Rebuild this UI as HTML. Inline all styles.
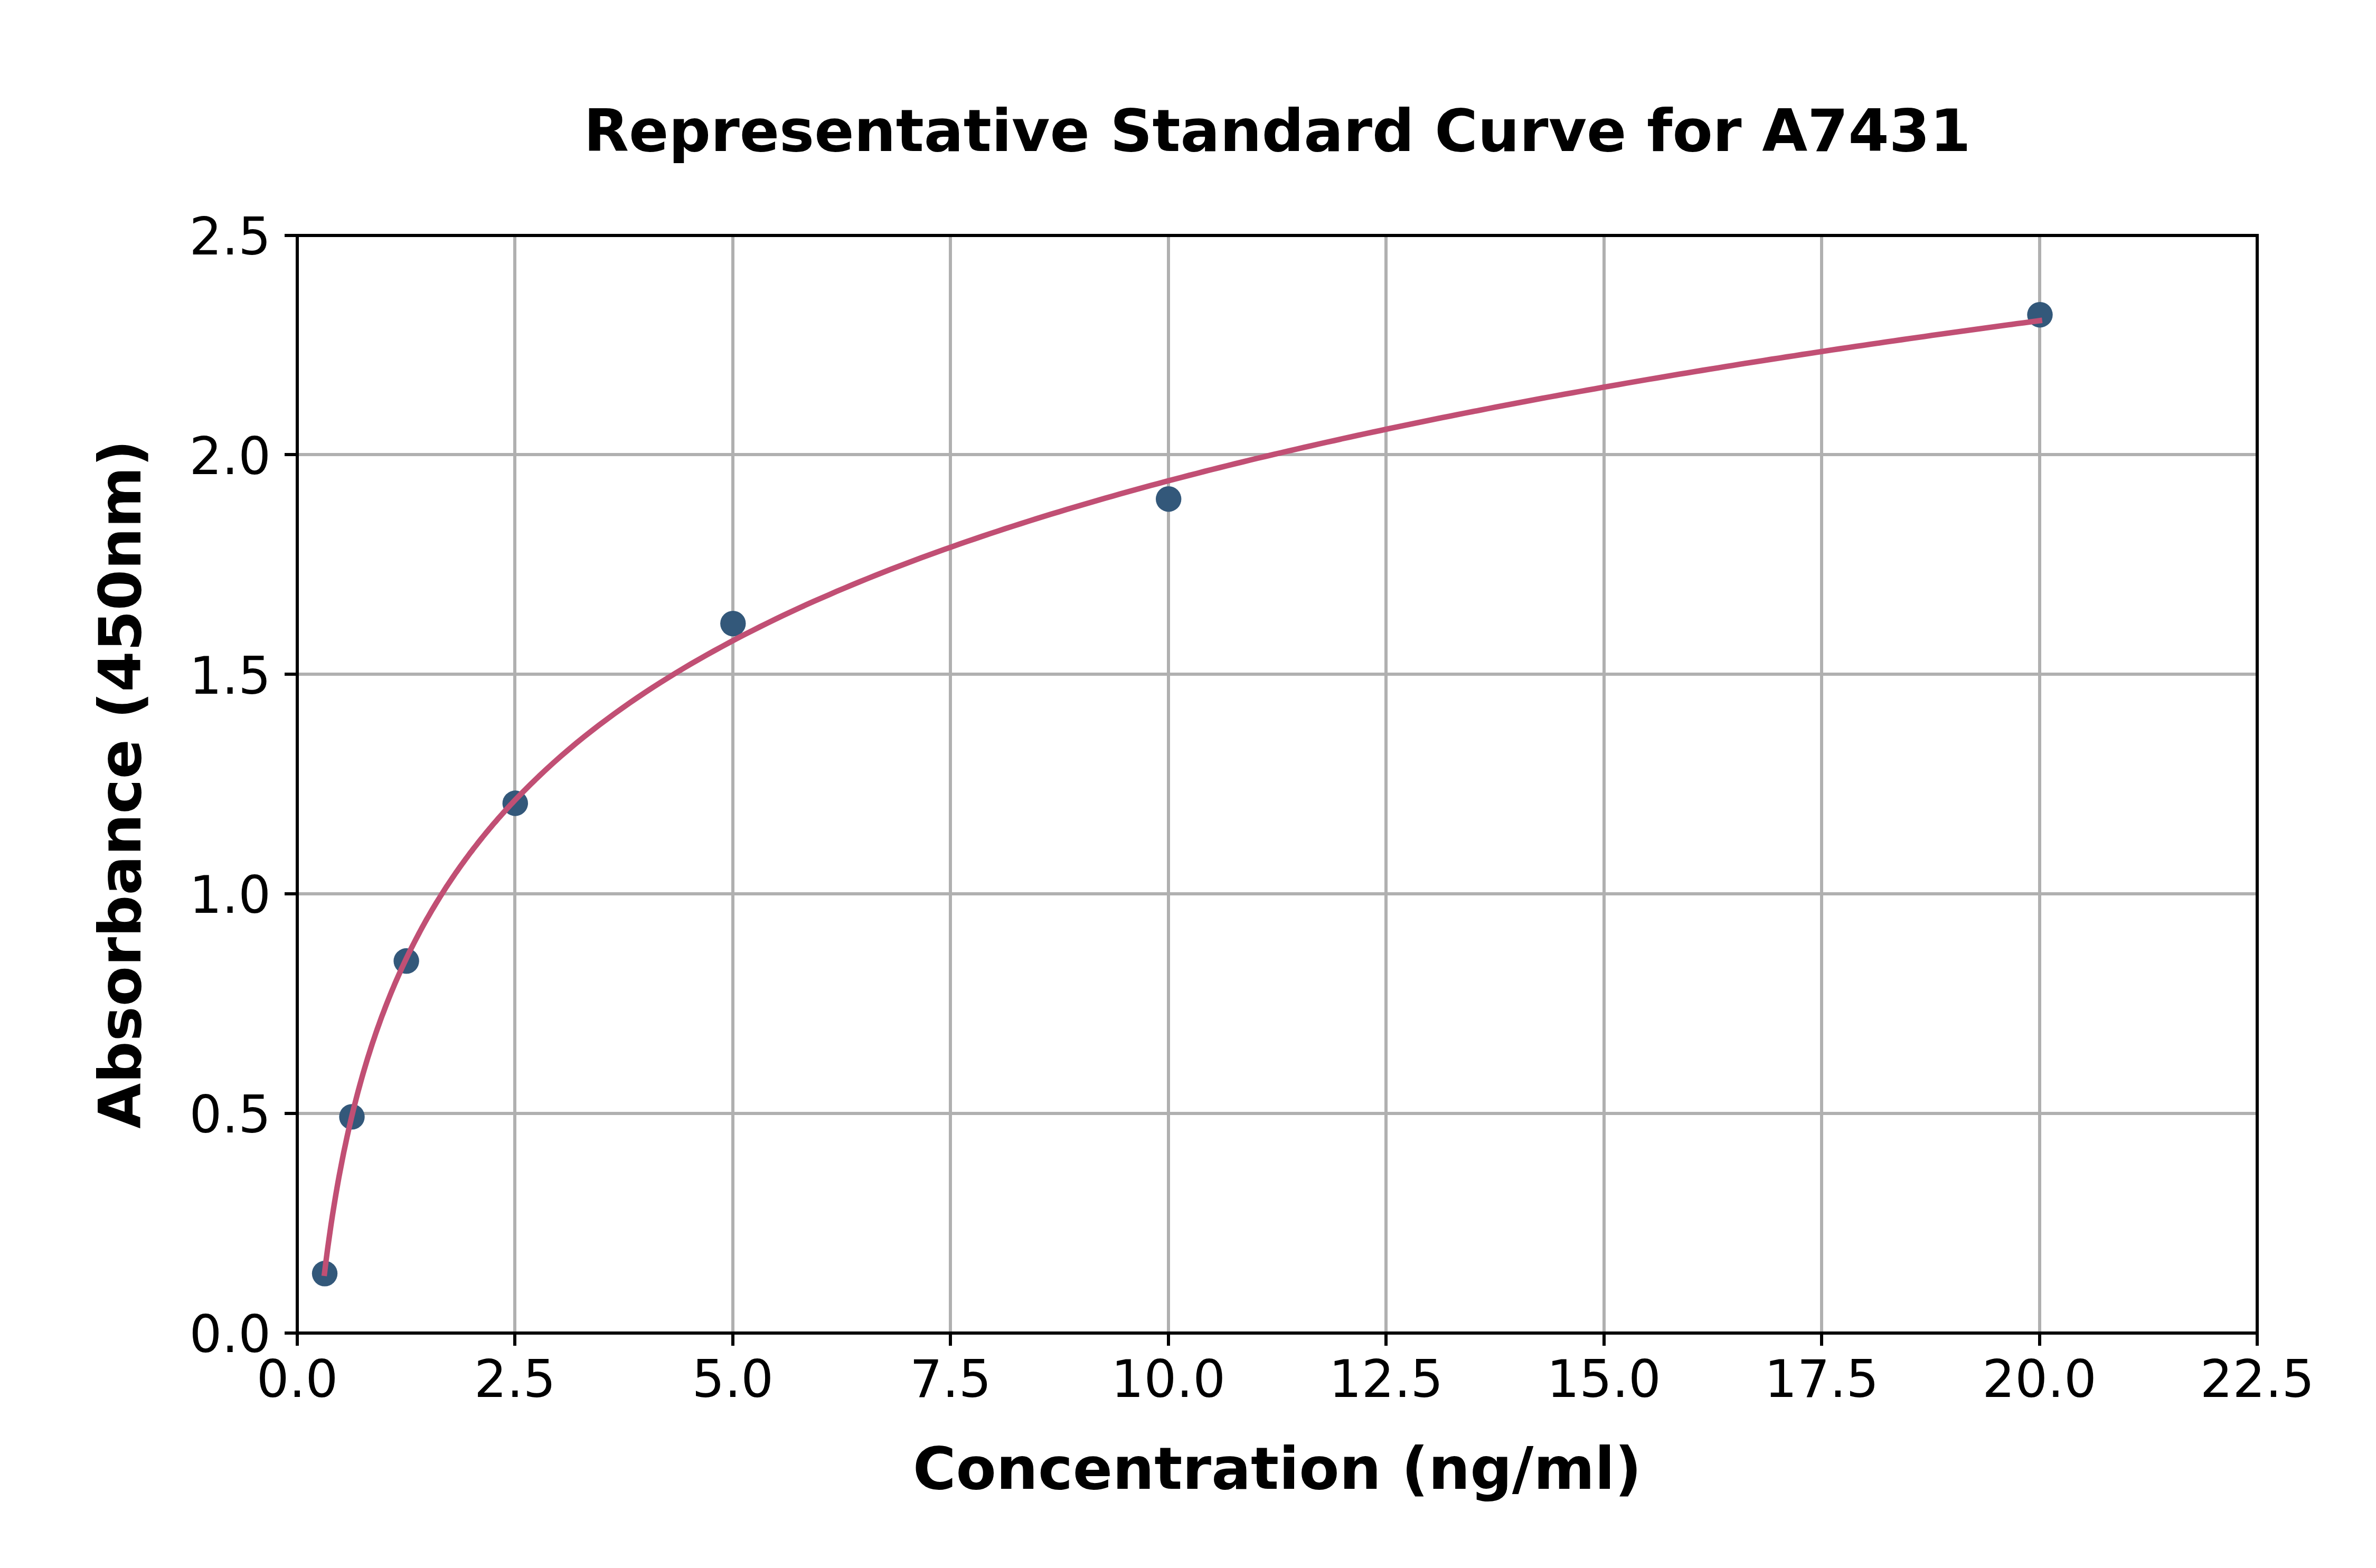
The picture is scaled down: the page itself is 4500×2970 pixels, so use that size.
<!DOCTYPE html>
<html lang="en">
<head>
<meta charset="utf-8">
<title>Representative Standard Curve for A7431</title>
<style>
html,body{margin:0;padding:0;background:#fff;}
body{width:4500px;height:2970px;overflow:hidden;}
svg{display:block;}
text{font-family:"DejaVu Sans", "Liberation Sans", sans-serif;fill:#000;}
.tk{font-size:97.22px;}
.lb{font-size:111.11px;font-weight:bold;}
.tt{font-size:111.11px;font-weight:bold;}
</style>
</head>
<body>
<svg width="4500" height="2970" viewBox="0 0 4500 2970">
<rect x="0" y="0" width="4500" height="2970" fill="#ffffff"/>
<g stroke="#b0b0b0" stroke-width="6" shape-rendering="crispEdges">
<line x1="975" y1="446" x2="975" y2="2525"/>
<line x1="1388" y1="446" x2="1388" y2="2525"/>
<line x1="1800" y1="446" x2="1800" y2="2525"/>
<line x1="2213" y1="446" x2="2213" y2="2525"/>
<line x1="2625" y1="446" x2="2625" y2="2525"/>
<line x1="3038" y1="446" x2="3038" y2="2525"/>
<line x1="3450" y1="446" x2="3450" y2="2525"/>
<line x1="3863" y1="446" x2="3863" y2="2525"/>
<line x1="563" y1="2109" x2="4275" y2="2109"/>
<line x1="563" y1="1693" x2="4275" y2="1693"/>
<line x1="563" y1="1277" x2="4275" y2="1277"/>
<line x1="563" y1="861" x2="4275" y2="861"/>
</g>
<g fill="#33587a">
<circle cx="615.0" cy="2412.3" r="24.2"/>
<circle cx="666.5" cy="2115.4" r="24.2"/>
<circle cx="769.6" cy="1820.3" r="24.2"/>
<circle cx="975.8" cy="1521.5" r="24.2"/>
<circle cx="1388.3" cy="1181.1" r="24.2"/>
<circle cx="2213.2" cy="945.2" r="24.2"/>
<circle cx="3863.5" cy="596.2" r="24.2"/>
</g>
<path d="M614.6 2411.8 L617.6 2387.4 L620.6 2364.3 L623.7 2342.4 L626.7 2321.6 L629.7 2301.7 L632.8 2282.6 L635.8 2264.4 L638.8 2247.0 L641.8 2230.1 L644.9 2214.0 L647.9 2198.4 L650.9 2183.3 L654.0 2168.8 L657.0 2154.7 L660.0 2141.1 L663.1 2127.9 L666.1 2115.0 L669.1 2102.6 L672.2 2090.5 L675.2 2078.7 L678.2 2067.2 L681.3 2056.0 L684.3 2045.1 L687.3 2034.5 L690.4 2024.1 L693.4 2014.0 L696.4 2004.1 L699.5 1994.4 L702.5 1984.9 L705.5 1975.7 L708.6 1966.6 L711.6 1957.7 L714.6 1949.0 L717.7 1940.4 L720.7 1932.1 L723.7 1923.8 L726.8 1915.8 L729.8 1907.8 L732.8 1900.1 L735.9 1892.4 L738.9 1884.9 L741.9 1877.5 L745.0 1870.3 L748.0 1863.1 L751.0 1856.1 L754.1 1849.2 L757.1 1842.4 L760.1 1835.7 L763.2 1829.1 L766.2 1822.6 L769.2 1816.2 L772.3 1809.8 L775.3 1803.6 L778.3 1797.5 L781.4 1791.4 L784.4 1785.5 L787.4 1779.6 L790.5 1773.8 L793.5 1768.0 L796.5 1762.4 L799.5 1756.8 L802.6 1751.3 L805.6 1745.8 L808.6 1740.4 L811.7 1735.1 L814.7 1729.9 L817.7 1724.7 L820.8 1719.5 L823.8 1714.5 L826.8 1709.5 L829.9 1704.5 L832.9 1699.6 L835.9 1694.8 L839.0 1690.0 L842.0 1685.2 L845.0 1680.5 L848.1 1675.9 L851.1 1671.3 L854.1 1666.8 L857.2 1662.3 L860.2 1657.8 L863.2 1653.4 L866.3 1649.1 L869.3 1644.8 L872.3 1640.5 L875.4 1636.2 L878.4 1632.1 L881.4 1627.9 L884.5 1623.8 L887.5 1619.7 L890.5 1615.7 L893.6 1611.7 L896.6 1607.7 L899.6 1603.8 L902.7 1599.9 L905.7 1596.0 L908.7 1592.2 L911.8 1588.4 L914.8 1584.6 L917.8 1580.9 L920.9 1577.2 L923.9 1573.6 L926.9 1569.9 L930.0 1566.3 L933.0 1562.7 L936.0 1559.2 L939.1 1555.7 L942.1 1552.2 L945.1 1548.7 L948.2 1545.3 L951.2 1541.9 L954.2 1538.5 L957.2 1535.1 L960.3 1531.8 L963.3 1528.5 L966.3 1525.2 L969.4 1522.0 L972.4 1518.7 L975.4 1515.5 L990.0 1500.5 L1004.5 1486.0 L1019.0 1471.9 L1033.5 1458.3 L1048.0 1445.0 L1062.5 1432.2 L1077.0 1419.8 L1091.5 1407.6 L1106.0 1395.8 L1120.5 1384.4 L1135.0 1373.2 L1149.5 1362.3 L1164.0 1351.6 L1178.6 1341.2 L1193.1 1331.1 L1207.6 1321.1 L1222.1 1311.4 L1236.6 1301.9 L1251.1 1292.7 L1265.6 1283.6 L1280.1 1274.6 L1294.6 1265.9 L1309.1 1257.3 L1323.6 1248.9 L1338.1 1240.7 L1352.7 1232.6 L1367.2 1224.7 L1381.7 1216.9 L1396.2 1209.2 L1410.7 1201.7 L1425.2 1194.3 L1439.7 1187.0 L1454.2 1179.8 L1468.7 1172.8 L1483.2 1165.8 L1497.7 1159.0 L1512.2 1152.3 L1526.8 1145.6 L1541.3 1139.1 L1555.8 1132.7 L1570.3 1126.4 L1584.8 1120.1 L1599.3 1114.0 L1613.8 1107.9 L1628.3 1101.9 L1642.8 1096.0 L1657.3 1090.2 L1671.8 1084.4 L1686.3 1078.7 L1700.8 1073.1 L1715.4 1067.6 L1729.9 1062.1 L1744.4 1056.7 L1758.9 1051.4 L1773.4 1046.1 L1787.9 1040.9 L1802.4 1035.8 L1816.9 1030.7 L1831.4 1025.6 L1845.9 1020.7 L1860.4 1015.8 L1874.9 1010.9 L1889.5 1006.1 L1904.0 1001.3 L1918.5 996.6 L1933.0 992.0 L1947.5 987.4 L1962.0 982.8 L1976.5 978.3 L1991.0 973.8 L2005.5 969.4 L2020.0 965.0 L2034.5 960.7 L2049.0 956.4 L2063.6 952.2 L2078.1 948.0 L2092.6 943.8 L2107.1 939.7 L2121.6 935.6 L2136.1 931.5 L2150.6 927.5 L2165.1 923.5 L2179.6 919.6 L2194.1 915.7 L2208.6 911.8 L2223.1 908.0 L2237.6 904.2 L2252.2 900.4 L2266.7 896.7 L2281.2 892.9 L2295.7 889.3 L2310.2 885.6 L2324.7 882.0 L2339.2 878.4 L2353.7 874.9 L2368.2 871.3 L2382.7 867.8 L2397.2 864.4 L2411.7 860.9 L2426.3 857.5 L2440.8 854.1 L2455.3 850.7 L2469.8 847.4 L2484.3 844.1 L2498.8 840.8 L2513.3 837.5 L2527.8 834.3 L2542.3 831.0 L2556.8 827.9 L2571.3 824.7 L2585.8 821.5 L2600.4 818.4 L2614.9 815.3 L2629.4 812.2 L2643.9 809.2 L2658.4 806.1 L2672.9 803.1 L2687.4 800.1 L2701.9 797.1 L2716.4 794.2 L2730.9 791.2 L2745.4 788.3 L2759.9 785.4 L2774.4 782.5 L2789.0 779.7 L2803.5 776.8 L2818.0 774.0 L2832.5 771.2 L2847.0 768.4 L2861.5 765.6 L2876.0 762.9 L2890.5 760.1 L2905.0 757.4 L2919.5 754.7 L2934.0 752.0 L2948.5 749.4 L2963.1 746.7 L2977.6 744.1 L2992.1 741.5 L3006.6 738.8 L3021.1 736.3 L3035.6 733.7 L3050.1 731.1 L3064.6 728.6 L3079.1 726.0 L3093.6 723.5 L3108.1 721.0 L3122.6 718.5 L3137.2 716.1 L3151.7 713.6 L3166.2 711.2 L3180.7 708.7 L3195.2 706.3 L3209.7 703.9 L3224.2 701.5 L3238.7 699.1 L3253.2 696.8 L3267.7 694.4 L3282.2 692.1 L3296.7 689.7 L3311.2 687.4 L3325.8 685.1 L3340.3 682.8 L3354.8 680.5 L3369.3 678.3 L3383.8 676.0 L3398.3 673.8 L3412.8 671.5 L3427.3 669.3 L3441.8 667.1 L3456.3 664.9 L3470.8 662.7 L3485.3 660.5 L3499.9 658.4 L3514.4 656.2 L3528.9 654.1 L3543.4 651.9 L3557.9 649.8 L3572.4 647.7 L3586.9 645.6 L3601.4 643.5 L3615.9 641.4 L3630.4 639.3 L3644.9 637.3 L3659.4 635.2 L3674.0 633.2 L3688.5 631.1 L3703.0 629.1 L3717.5 627.1 L3732.0 625.1 L3746.5 623.1 L3761.0 621.1 L3775.5 619.1 L3790.0 617.1 L3804.5 615.2 L3819.0 613.2 L3833.5 611.3 L3848.0 609.3 L3862.6 607.4" fill="none" stroke="#c14f74" stroke-width="10.4" stroke-linecap="square" stroke-linejoin="round"/>
<g stroke="#000" stroke-width="6" shape-rendering="crispEdges">
<line x1="563" y1="2525" x2="563" y2="2549"/>
<line x1="975" y1="2525" x2="975" y2="2549"/>
<line x1="1388" y1="2525" x2="1388" y2="2549"/>
<line x1="1800" y1="2525" x2="1800" y2="2549"/>
<line x1="2213" y1="2525" x2="2213" y2="2549"/>
<line x1="2625" y1="2525" x2="2625" y2="2549"/>
<line x1="3038" y1="2525" x2="3038" y2="2549"/>
<line x1="3450" y1="2525" x2="3450" y2="2549"/>
<line x1="3863" y1="2525" x2="3863" y2="2549"/>
<line x1="4275" y1="2525" x2="4275" y2="2549"/>
<line x1="539" y1="2525" x2="563" y2="2525"/>
<line x1="539" y1="2109" x2="563" y2="2109"/>
<line x1="539" y1="1693" x2="563" y2="1693"/>
<line x1="539" y1="1277" x2="563" y2="1277"/>
<line x1="539" y1="861" x2="563" y2="861"/>
<line x1="539" y1="446" x2="563" y2="446"/>
</g>
<rect x="563" y="446" width="3712" height="2079" fill="none" stroke="#000" stroke-width="6" shape-rendering="crispEdges"/>
<g class="tk" text-anchor="middle">
<text x="563.0" y="2646">0.0</text>
<text x="975.4" y="2646">2.5</text>
<text x="1387.9" y="2646">5.0</text>
<text x="1800.3" y="2646">7.5</text>
<text x="2212.8" y="2646">10.0</text>
<text x="2625.2" y="2646">12.5</text>
<text x="3037.7" y="2646">15.0</text>
<text x="3450.1" y="2646">17.5</text>
<text x="3862.6" y="2646">20.0</text>
<text x="4275.0" y="2646">22.5</text>
</g>
<g class="tk" text-anchor="end">
<text x="513" y="2561.0">0.0</text>
<text x="513" y="2145.2">0.5</text>
<text x="513" y="1729.4">1.0</text>
<text x="513" y="1313.6">1.5</text>
<text x="513" y="897.8">2.0</text>
<text x="513" y="482.0">2.5</text>
</g>
<text class="tt" text-anchor="middle" x="2419" y="285.6">Representative Standard Curve for A7431</text>
<text class="lb" text-anchor="middle" x="2419" y="2819.5">Concentration (ng/ml)</text>
<text class="lb" text-anchor="middle" transform="translate(265.5 1485.5) rotate(-90)">Absorbance (450nm)</text>
</svg>
</body>
</html>
